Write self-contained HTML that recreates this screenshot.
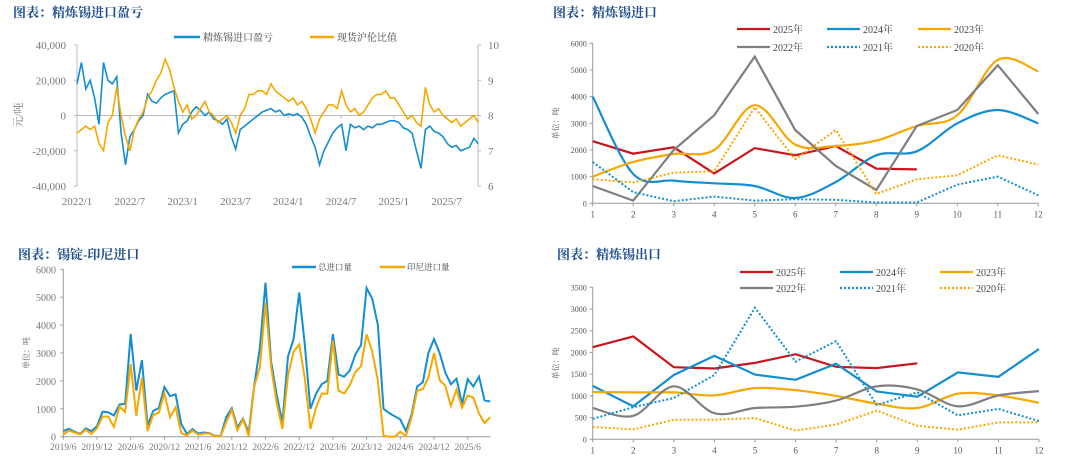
<!DOCTYPE html>
<html><head><meta charset="utf-8">
<style>
html,body{margin:0;padding:0;background:#fff;}
svg{display:block;font-family:"Liberation Serif","Noto Serif CJK SC",serif;}
.ttl{font-family:"Liberation Serif","Noto Serif CJK SC",serif;font-weight:bold;font-size:13px;fill:#1f4e8c;}
.tk{font-size:11px;fill:#777;}
.tks{font-size:8px;fill:#555;}
.lg{font-size:10px;fill:#444;}
</style></head>
<body>
<svg id="c" width="1080" height="465" viewBox="0 0 1080 465" xmlns="http://www.w3.org/2000/svg">
<text class="ttl" x="13" y="17">图表：精炼锡进口盈亏</text>
<text class="ttl" x="553" y="17">图表：精炼锡进口</text>
<text class="ttl" x="18" y="259">图表：锡锭-印尼进口</text>
<text class="ttl" x="557" y="259">图表：精炼锡出口</text>
<g id="g1"></g>
<g id="g2"></g>
<g id="g3"></g>
<g id="g4"></g>
</svg>
<script>
// ---- Chart 1: import profit (thousand yuan/t) and ratio, semi-monthly from 2022/1
const profitVals=[18,30,15,20,10,-5,30,20,18,22,-10,-28,-12,-8,-3,0,12,8,7,10,12,13,14,-10,
-5,-3,2,5,3,0,2,-2,-3,-5,-2,-12,-19,-8,-6,-4,-2,0,2,3,4,2,3,0,
1,0,1,-1,-5,-12,-18,-28,-20,-15,-10,-7,-5,-20,-5,-7,-6,-8,-6,-7,-5,-5,-4,-3,
-3,-4,-7,-8,-10,-20,-30,-8,-6,-9,-10,-12,-16,-18,-17,-20,-19,-18,-13,-16];
const ratioVals=[7.5,7.6,7.7,7.6,7.7,7.2,7.0,7.8,8.0,8.8,8.0,7.4,7.0,7.6,7.9,8.1,8.5,8.7,9.0,9.2,9.6,9.3,8.8,8.4,
8.1,8.3,7.9,8.0,8.2,8.4,8.1,8.0,7.8,7.9,8.0,7.8,7.5,8.0,8.2,8.6,8.6,8.7,8.7,8.6,8.9,8.7,8.6,8.5,
8.4,8.5,8.3,8.4,8.2,7.9,7.5,7.9,8.1,8.3,8.3,8.2,8.7,8.3,8.1,8.2,8.0,8.1,8.3,8.5,8.6,8.6,8.7,8.5,
8.5,8.3,8.1,7.9,8.0,7.8,7.7,8.8,8.3,8.1,8.2,8.0,7.9,7.8,7.9,7.7,7.8,7.9,8.0,7.8];
const c1LeftTicks=[40000,20000,0,-20000,-40000];
const c1RightTicks=[10,9,8,7,6];
const c1XLabels=["2022/1","2022/7","2023/1","2023/7","2024/1","2024/7","2025/1","2025/7"];
// ---- Chart 2: refined tin import by month
const months=[1,2,3,4,5,6,7,8,9,10,11,12];
const imp2025=[2330,1860,2100,1120,2070,1800,2150,1300,1270];
const imp2024=[4000,1100,850,750,650,200,800,1800,1950,3000,3500,3000];
const imp2023=[1000,1550,1850,2000,3680,2200,2150,2350,2900,3300,5380,4950];
const imp2022=[650,100,2000,3300,5500,2750,1400,500,2900,3500,5180,3350];
const imp2021=[1550,420,80,250,100,150,130,30,30,700,1000,300];
const imp2020=[900,780,1150,1200,3600,1650,2750,350,900,1050,1800,1450];
const impTicks=[0,1000,2000,3000,4000,5000,6000];
// ---- Chart 3: ingot imports monthly from 2019/6
const totalImp=[200,280,180,100,300,200,380,
900,870,760,1150,1180,3680,1650,2750,400,930,1030,1780,
1450,1520,450,100,270,120,150,130,30,30,700,1020,
330,650,150,1850,3200,5520,2700,1500,500,2880,3500,5170,
3300,1000,1550,1880,2000,3680,2230,2150,2380,2950,3280,5330,
4950,4000,1000,850,730,620,200,800,1800,1950,3000,3500,
3000,2300,1880,2080,1170,2060,1800,2150,1300,1260];
const indoImp=[80,220,150,80,250,100,300,
720,720,350,1080,880,2600,750,2120,200,780,860,1560,
700,1050,130,50,220,80,110,120,10,20,520,960,
230,620,20,1800,2500,4800,2500,1200,280,2200,3050,3300,
2100,280,1050,1550,1540,3450,1650,1550,1850,2320,2520,3670,
3050,2000,40,0,0,180,20,700,1650,1700,2120,3000,
2030,1830,1100,1680,1040,1480,1400,830,490,700];
const c3Ticks=[0,1000,2000,3000,4000,5000,6000];
const c3XLabels=["2019/6","2019/12","2020/6","2020/12","2021/6","2021/12","2022/6","2022/12","2023/6","2023/12","2024/6","2024/12","2025/6"];
// ---- Chart 4: refined tin export by month
const exp2025=[2120,2370,1660,1630,1760,1960,1670,1640,1750];
const exp2024=[1230,760,1480,1920,1490,1370,1740,1100,980,1540,1440,2080];
const exp2023=[1090,1080,1080,1010,1180,1130,1000,820,720,1050,1010,840];
const exp2022=[720,540,1220,600,720,750,890,1220,1150,760,1010,1110];
const exp2021=[470,740,950,1480,3030,1790,2260,790,1080,550,700,420];
const exp2020=[280,230,450,450,490,200,340,660,310,220,390,390];
const expTicks=[0,500,1000,1500,2000,2500,3000,3500];

const NS="http://www.w3.org/2000/svg";
const BLUE="#138ed3",ORANGE="#f6a800",RED="#c8161d",GRAY="#7f7f7f";
function mk(parent,tag,attrs,text){const e=document.createElementNS(NS,tag);for(const k in attrs)e.setAttribute(k,attrs[k]);if(text!==undefined)e.textContent=text;parent.appendChild(e);return e;}
function lin(d0,d1,r0,r1){return v=>r0+(v-d0)*(r1-r0)/(d1-d0);}
function straight(pts){return pts.map((p,i)=>(i?"L":"M")+p[0].toFixed(1)+","+p[1].toFixed(1)).join("");}
function smooth(pts){let d="M"+pts[0][0]+","+pts[0][1];for(let i=0;i<pts.length-1;i++){const p0=pts[i-1]||pts[i],p1=pts[i],p2=pts[i+1],p3=pts[i+2]||p2;const c1=[p1[0]+(p2[0]-p0[0])/6,p1[1]+(p2[1]-p0[1])/6],c2=[p2[0]-(p3[0]-p1[0])/6,p2[1]-(p3[1]-p1[1])/6];d+="C"+c1[0].toFixed(1)+","+c1[1].toFixed(1)+" "+c2[0].toFixed(1)+","+c2[1].toFixed(1)+" "+p2[0].toFixed(1)+","+p2[1].toFixed(1);}return d;}

// ===== Chart 1
(function(){
const g=document.getElementById('g1');
const X0=77,X1=478,Y0=45,Y1=186;
const y=lin(-40000,40000,Y1,Y0), yr=lin(6,10,Y1,Y0), x=m=>X0+m*8.8;
let a=mk(g,'line',{x1:X0,y1:Y0,x2:X0,y2:Y1,stroke:'#bbb','stroke-width':1});

a=mk(g,'line',{x1:X1,y1:Y0,x2:X1,y2:Y1,stroke:'#bbb','stroke-width':1});

a=mk(g,'line',{x1:X0,y1:y(0),x2:X1,y2:y(0),stroke:'#bbb','stroke-width':1});

c1LeftTicks.forEach(v=>{mk(g,'line',{x1:X0-3,y1:y(v),x2:X0,y2:y(v),stroke:'#bbb'});
const t=mk(g,'text',{x:66,y:y(v)+4,'text-anchor':'end',class:'tk'},v.toLocaleString('en-US'));
});
c1RightTicks.forEach(v=>{mk(g,'line',{x1:X1,y1:yr(v),x2:X1+3,y2:yr(v),stroke:'#bbb'});
const t=mk(g,'text',{x:488,y:yr(v)+4,class:'tk'},String(v));
});
c1XLabels.forEach((s,i)=>{const xx=x(i*6);mk(g,'line',{x1:xx,y1:y(0),x2:xx,y2:y(0)+3,stroke:'#bbb'});
const t=mk(g,'text',{x:xx,y:205,'text-anchor':'middle',class:'tk'},s);
});
const yt=mk(g,'text',{x:22,y:115,'text-anchor':'middle',class:'tk',transform:'rotate(-90 22 115)'},'元/吨');

const n=profitVals.length;
const pb=mk(g,'path',{d:straight(profitVals.map((v,i)=>[x(i*45.6/(n-1)),y(v*1000)])),fill:'none',stroke:BLUE,'stroke-width':1.6});

const po=mk(g,'path',{d:straight(ratioVals.map((v,i)=>[x(i*45.6/(ratioVals.length-1)),yr(v)])),fill:'none',stroke:ORANGE,'stroke-width':1.6});

let l=mk(g,'line',{x1:174,y1:37,x2:200,y2:37,stroke:BLUE,'stroke-width':2.5});

l=mk(g,'text',{x:203,y:41,class:'lg'},'精炼锡进口盈亏');

l=mk(g,'line',{x1:310,y1:37,x2:334,y2:37,stroke:ORANGE,'stroke-width':2.5});

l=mk(g,'text',{x:337,y:41,class:'lg'},'现货沪伦比值');

})();

// ===== Month charts
function monthChart(gid,X0,X1,Y0,Y1,maxV,ticks,series,legY,legX){
const g=document.getElementById(gid);
const x=lin(1,12,X0,X1),y=lin(0,maxV,Y1,Y0);
let a=mk(g,'line',{x1:X0,y1:Y0,x2:X0,y2:Y1,stroke:'#999'});

a=mk(g,'line',{x1:X0,y1:Y1,x2:X1,y2:Y1,stroke:'#999'});

ticks.forEach(v=>{mk(g,'line',{x1:X0-3,y1:y(v),x2:X0,y2:y(v),stroke:'#999'});
const t=mk(g,'text',{x:X0-6,y:y(v)+3,'text-anchor':'end',class:'tks'},String(v));
});
months.forEach(m=>{mk(g,'line',{x1:x(m),y1:Y1,x2:x(m),y2:Y1+3,stroke:'#999'});
const t=mk(g,'text',{x:x(m),y:Y1+14,'text-anchor':'middle',class:'tks',style:'font-size:9px'},String(m));
});
const cy=(Y0+Y1)/2;
const ut=mk(g,'text',{x:X0-34,y:cy,'text-anchor':'middle',class:'tks',transform:'rotate(-90 '+(X0-34)+' '+cy+')'},'单位：吨');

series.forEach((s,i)=>{
const pts=s.vals.map((v,j)=>[x(months[j]),y(v)]);
const p=mk(g,'path',{d:s.smooth?smooth(pts):straight(pts),fill:'none',stroke:s.color,'stroke-width':s.dot?2:2.2,'stroke-dasharray':s.dot?'2,2':'none'});

const lx=legX[i%3],ly=legY[Math.floor(i/3)];
const sw=mk(g,'line',{x1:lx,y1:ly,x2:lx+33,y2:ly,stroke:s.color,'stroke-width':2.2,'stroke-dasharray':s.dot?'2,2':'none'});

const lt=mk(g,'text',{x:lx+36,y:ly+4,class:'lg'},s.name+'年');

});
}
monthChart('g2',592.7,1038.3,43.3,203.3,6000,impTicks,[
{name:'2025',vals:imp2025,color:RED},{name:'2024',vals:imp2024,color:BLUE,smooth:1},{name:'2023',vals:imp2023,color:ORANGE,smooth:1},
{name:'2022',vals:imp2022,color:GRAY},{name:'2021',vals:imp2021,color:BLUE,dot:1},{name:'2020',vals:imp2020,color:ORANGE,dot:1}],
[29,47],[737,827,918]);
monthChart('g4',592.7,1039,287.3,439.3,3500,expTicks,[
{name:'2025',vals:exp2025,color:RED},{name:'2024',vals:exp2024,color:BLUE},{name:'2023',vals:exp2023,color:ORANGE,smooth:1},
{name:'2022',vals:exp2022,color:GRAY,smooth:1},{name:'2021',vals:exp2021,color:BLUE,dot:1},{name:'2020',vals:exp2020,color:ORANGE,dot:1}],
[272,288],[740,840,940]);

// ===== Chart 3
(function(){
const g=document.getElementById('g3');
const X0=63.3,Y0=269.3,Y1=436.7,step=5.617;
const x=i=>X0+i*step,y=lin(0,6000,Y1,Y0);
let a=mk(g,'line',{x1:X0,y1:Y0,x2:X0,y2:Y1,stroke:'#999'});

a=mk(g,'line',{x1:X0,y1:Y1,x2:x(76),y2:Y1,stroke:'#999'});

c3Ticks.forEach(v=>{mk(g,'line',{x1:X0-3,y1:y(v),x2:X0,y2:y(v),stroke:'#999'});
const t=mk(g,'text',{x:56,y:y(v)+4,'text-anchor':'end',class:'tk',style:'font-size:10px'},String(v));
});
c3XLabels.forEach((s,i)=>{const xx=x(i*6);mk(g,'line',{x1:xx,y1:Y1,x2:xx,y2:Y1+3,stroke:'#999'});
const t=mk(g,'text',{x:xx,y:450,'text-anchor':'middle',class:'tk',style:'font-size:9.5px'},s);
});
const ut=mk(g,'text',{x:29,y:353,'text-anchor':'middle',class:'tks',transform:'rotate(-90 29 353)'},'单位：吨');

let p=mk(g,'path',{d:straight(totalImp.map((v,i)=>[x(i),y(v)])),fill:'none',stroke:BLUE,'stroke-width':2});

p=mk(g,'path',{d:straight(indoImp.map((v,i)=>[x(i),y(v)])),fill:'none',stroke:ORANGE,'stroke-width':2});

let l=mk(g,'line',{x1:292,y1:267,x2:316,y2:267,stroke:BLUE,'stroke-width':2.5});

l=mk(g,'text',{x:318,y:270,class:'lg',style:'font-size:8.5px'},'总进口量');

l=mk(g,'line',{x1:380,y1:267,x2:405,y2:267,stroke:ORANGE,'stroke-width':2.5});

l=mk(g,'text',{x:407,y:270,class:'lg',style:'font-size:8.5px'},'印尼进口量');

})();
</script>
</body></html>
